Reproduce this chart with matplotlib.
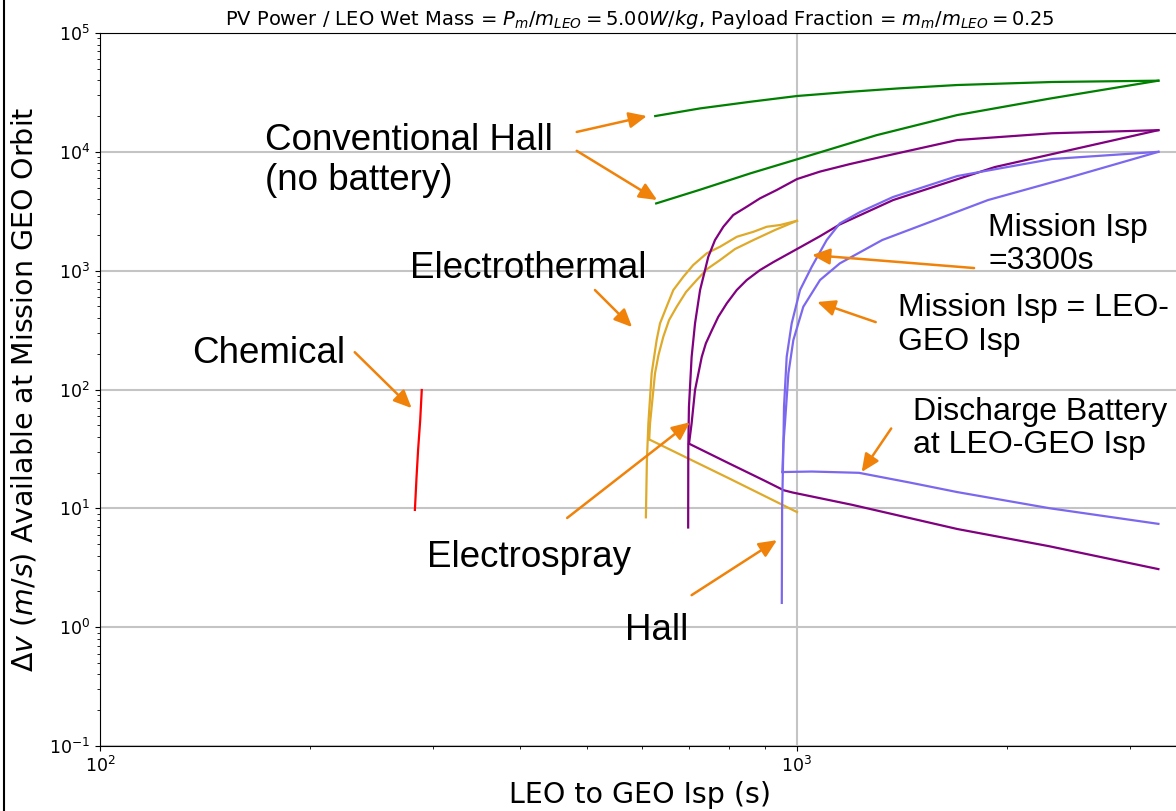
import numpy as np
import matplotlib.pyplot as plt

# LEO to GEO Isp (s) -> delta-v available at GEO (m/s)
chem_isp = [283, 284.5, 286, 288, 289.5]
chem_dv = [9.7, 18, 31, 55, 99]

# electrothermal / electrospray (gold)
gold_a_isp = [607, 609, 612, 618.7, 629, 636, 650, 664.6, 687, 709.6, 742, 775.5, 820, 865.7, 905, 945.4, 1000]
gold_a_dv = [8.4, 25, 52, 137, 261, 360, 497, 687, 889, 1114, 1398, 1590, 1930, 2123, 2342, 2421, 2630]
gold_b_isp = [613.7, 615.4, 625.6, 632.8, 643, 655.3, 672, 693, 718, 743, 775.5, 814.8, 865.7, 929.8, 1000]
gold_b_dv = [38, 51.9, 137, 195, 278, 384, 497, 661, 834, 1032, 1228, 1521, 1809, 2198, 2630]
gold_bat_isp = [613.7, 800, 1000]
gold_bat_dv = [38, 17.8, 9.3]

# hall (purple)
purple_a_isp = [698, 698.3, 699.8, 706, 714, 726, 738, 746, 762.7, 784, 810, 847, 885, 935, 1000,
                1079, 1191, 1325, 1698, 2000, 2322, 3300]
purple_a_dv = [6.9, 32.9, 71.5, 188, 360, 687, 1012, 1309, 1809, 2342, 2938, 3451, 4062, 4770, 5900,
               6820, 7890, 9100, 12570, 13460, 14330, 15220]
purple_b_isp = [700, 706, 714, 730, 740, 755, 771, 793, 819.5, 847, 885, 925, 1004, 1079, 1152, 1374, 1923, 3300]
purple_b_dv = [35, 51.9, 98.9, 188, 244.5, 316, 409, 531, 687, 834, 1012, 1181, 1541, 1950, 2450, 3930, 7450, 15220]
purple_bat_isp = [700, 800, 900, 957, 985, 1200, 1698, 2300, 3300]
purple_bat_dv = [35, 23.8, 17, 14.2, 13.6, 10.7, 6.7, 4.8, 3.08]

# hall at higher isp (slate blue)
blue_a_isp = [951, 952, 955.7, 958, 966.5, 982.6, 1010, 1050, 1103, 1152, 1231.5, 1373, 1698, 2322, 3300]
blue_a_dv = [1.6, 10, 30.9, 71.5, 188.5, 360, 687, 1080, 1809, 2500, 3113, 4165, 6256, 8700, 10000]
blue_b_isp = [953, 956, 961, 972, 988, 1021, 1079, 1152, 1325, 1880, 2473, 3300]
blue_b_dv = [20.2, 35, 51.9, 136.6, 260.6, 497, 834, 1152, 1810, 3930, 6140, 10000]
blue_bat_isp = [953, 1050, 1227, 1450, 1698, 2308, 3300]
blue_bat_dv = [20.2, 20.4, 19.9, 16.5, 13.7, 10.0, 7.4]

# conventional hall, no battery (green)
green_a_isp = [626, 726, 858, 1000, 1191, 1400, 1698, 2322, 3300]
green_a_dv = [2.0e4, 2.32e4, 2.64e4, 2.95e4, 3.2e4, 3.42e4, 3.65e4, 3.87e4, 3.97e4]
green_b_isp = [628, 726, 858, 1000, 1300, 1698, 2300, 3300]
green_b_dv = [3680, 4800, 6600, 8650, 1.38e4, 2.04e4, 2.8e4, 3.97e4]

ORANGE = '#F0820A'
GOLD = '#DFAA2A'

fig = plt.figure(figsize=(11.76, 8.11), dpi=100)
ax = fig.add_axes([100/1176, 65/811, 1080/1176, 713/811])

ax.plot(chem_isp, chem_dv, color='red', lw=1.6)
ax.plot(gold_a_isp, gold_a_dv, color=GOLD, lw=1.6)
ax.plot(gold_b_isp, gold_b_dv, color=GOLD, lw=1.6)
ax.plot(gold_bat_isp, gold_bat_dv, color=GOLD, lw=1.6)
ax.plot(purple_a_isp, purple_a_dv, color='purple', lw=1.6)
ax.plot(purple_b_isp, purple_b_dv, color='purple', lw=1.6)
ax.plot(purple_bat_isp, purple_bat_dv, color='purple', lw=1.6)
ax.plot(blue_a_isp, blue_a_dv, color='mediumslateblue', lw=1.6)
ax.plot(blue_b_isp, blue_b_dv, color='mediumslateblue', lw=1.6)
ax.plot(blue_bat_isp, blue_bat_dv, color='mediumslateblue', lw=1.6)
ax.plot(green_a_isp, green_a_dv, color='green', lw=1.6)
ax.plot(green_b_isp, green_b_dv, color='green', lw=1.6)

ax.set_xscale('log')
ax.set_yscale('log')
ax.set_xlim(100, 3544)
ax.set_ylim(0.1, 1e5)
ax.grid(True, which='major', color='#c4c4c4', lw=1.5)
ax.spines['right'].set_visible(False)
ax.tick_params(labelsize=12.5)

ax.set_title('PV Power / LEO Wet Mass = $P_m/m_{LEO} = 5.00W/kg$, '
             'Payload Fraction = $m_m/m_{LEO} = 0.25$', fontsize=14)
ax.set_xlabel('LEO to GEO Isp (s)', fontsize=20.5, labelpad=4)
ax.set_ylabel('$\\Delta v\\ (m/s)$ Available at Mission GEO Orbit', fontsize=20.5, labelpad=8)

# annotations
big = dict(family=['Liberation Sans', 'DejaVu Sans'], fontsize=26.5, va='center', ha='left', linespacing=1.2)
small = dict(family=['Liberation Sans', 'DejaVu Sans'], fontsize=23, va='center', ha='left', linespacing=1.15)
ax.text(172.6, 8.45e3, 'Conventional Hall\n(no battery)', **big)
ax.text(278.5, 1052, 'Electrothermal', **big)
ax.text(135.5, 202, 'Chemical', **big)
ax.text(294.5, 3.88, 'Electrospray', **big)
ax.text(566, 0.944, 'Hall', **big)
ax.text(1880, 1660, 'Mission Isp\n=3300s', **small)
ax.text(1396, 348, 'Mission Isp = LEO-\nGEO Isp', **small)
ax.text(1466, 46.9, 'Discharge Battery\nat LEO-GEO Isp', **small)

arrows = [
    ((483, 1.47e4), (609, 2.0e4)),
    ((483, 1.02e4), (630, 3.93e3)),
    ((513, 687), (580, 335)),
    ((232, 206), (280, 69.7)),
    ((468, 8.3), (702, 53)),
    ((706, 1.86), (936, 5.4)),
    ((1795, 1052), (1051, 1353)),
    ((1297, 369), (1069, 545)),
    ((1365, 47), (1238, 20.2)),
]
for tail, head in arrows:
    ax.annotate('', xy=head, xytext=tail,
                arrowprops=dict(arrowstyle='-|>,head_length=0.6,head_width=0.27',
                                color=ORANGE, lw=1.8, mutation_scale=18,
                                shrinkA=0, shrinkB=0))

fig.add_artist(plt.Line2D([4/1176, 4/1176], [0, 1], transform=fig.transFigure, color='black', lw=1.5))

fig.savefig('out.png', dpi=100)
